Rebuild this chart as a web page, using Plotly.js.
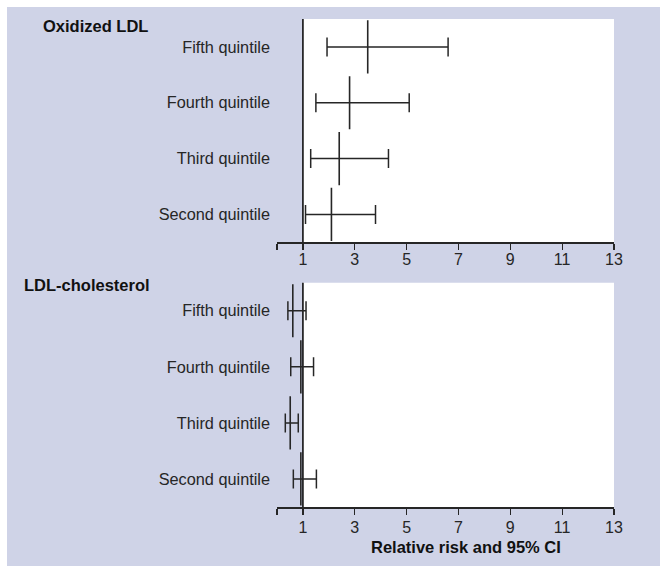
<!DOCTYPE html>
<html>
<head>
<meta charset="utf-8">
<script src="https://cdn.plot.ly/plotly-3.0.1.min.js"></script>
<style>html,body{margin:0;padding:0;background:#fff;}#chart{width:671px;height:571px;}</style>
</head>
<body>
<div id="chart"></div>
<script>
// Categories (bottom to top)
const categories = ['Second quintile', 'Third quintile', 'Fourth quintile', 'Fifth quintile'];

// Oxidized LDL: relative risk and 95% CI
const oxRR   = [2.1, 2.4, 2.8, 3.5];
const oxLow  = [1.1, 1.3, 1.5, 1.93];
const oxHigh = [3.8, 4.3, 5.1, 6.6];

// LDL-cholesterol: relative risk and 95% CI
const ldlRR   = [0.92, 0.51, 0.92, 0.61];
const ldlLow  = [0.63, 0.32, 0.53, 0.42];
const ldlHigh = [1.52, 0.82, 1.41, 1.12];

const tickVals = [0, 1, 3, 5, 7, 9, 11, 13];
const tickText = ['', '1', '3', '5', '7', '9', '11', '13'];

const panelTitles = ['Oxidized LDL', 'LDL-cholesterol'];
const xTitle = 'Relative risk and 95% CI';

const FONT = 'Liberation Sans, Arial, Helvetica, sans-serif';
const INK = '#262626';
const LAV = '#cfd3e7';

function trace(rr, lo, hi, xa, ya) {
  return {
    type: 'scatter', mode: 'markers',
    x: rr, y: categories, xaxis: xa, yaxis: ya,
    marker: {symbol: 'line-ns', size: 38, color: INK, line: {color: INK, width: 1.6}},
    error_x: {
      type: 'data', symmetric: false,
      array: hi.map((h, i) => h - rr[i]),
      arrayminus: lo.map((l, i) => rr[i] - l),
      color: INK, thickness: 1.5, width: 9.5
    },
    hoverinfo: 'skip', showlegend: false
  };
}

const data = [
  trace(oxRR, oxLow, oxHigh, 'x', 'y'),
  trace(ldlRR, ldlLow, ldlHigh, 'x2', 'y2')
];

function xaxisDef(anchor, standoff) {
  return {
    anchor: anchor, range: [0, 13], tickmode: 'array', tickvals: tickVals, ticktext: tickText,
    showgrid: false, zeroline: false, showline: true, linecolor: INK, linewidth: 1.5,
    ticks: 'outside', ticklen: 6, tickwidth: 1.3, tickcolor: INK, ticklabelstandoff: standoff,
    tickfont: {family: FONT, size: 16, color: INK}, fixedrange: true
  };
}
function yaxisDef(anchor, domain) {
  return {
    anchor: anchor, domain: domain, type: 'category',
    categoryorder: 'array', categoryarray: categories, range: [-0.5, 3.5],
    showgrid: false, zeroline: false, showline: false, ticks: '', ticklabelstandoff: 6,
    tickfont: {family: FONT, size: 16.3, color: INK}, fixedrange: true
  };
}

const shapes = [
  {type: 'rect', xref: 'paper', yref: 'paper', x0: -0.8012, x1: 1.1365, y0: -0.1209, y1: 1.0246,
   fillcolor: LAV, line: {width: 0}, layer: 'below'}
];
[['x', 'y'], ['x2', 'y2']].forEach(([xa, ya]) => {
  shapes.push({type: 'rect', xref: xa, yref: ya + ' domain', x0: 1, x1: 13, y0: 0, y1: 1,
    fillcolor: '#ffffff', line: {width: 0}, layer: 'below'});
  shapes.push({type: 'line', xref: xa, yref: ya + ' domain', x0: 1, x1: 1, y0: 0, y1: 1,
    line: {color: '#111', width: 1.6}, layer: 'below'});
});

const layout = {
  width: 671, height: 571,
  margin: {l: 277, r: 57, t: 19, b: 64},
  paper_bgcolor: '#ffffff', plot_bgcolor: 'rgba(0,0,0,0)',
  font: {family: FONT, color: INK},
  xaxis: xaxisDef('y', -4),
  yaxis: yaxisDef('x', [0.5424, 1]),
  xaxis2: Object.assign(xaxisDef('y2', -1), {matches: 'x'}),
  yaxis2: yaxisDef('x2', [0, 0.4596]),
  shapes: shapes,
  annotations: [
    {text: '<b>' + panelTitles[0] + '</b>', xref: 'paper', yref: 'paper', x: -0.7, y: 0.9857,
     xanchor: 'left', yanchor: 'middle', showarrow: false, font: {family: FONT, size: 16.5, color: '#111'}},
    {text: '<b>' + panelTitles[1] + '</b>', xref: 'paper', yref: 'paper', x: -0.7576, y: 0.4549,
     xanchor: 'left', yanchor: 'middle', showarrow: false, font: {family: FONT, size: 16.5, color: '#111'}},
    {text: '<b>' + xTitle + '</b>', xref: 'paper', yref: 'paper', x: 0.5617, y: -0.081,
     xanchor: 'center', yanchor: 'middle', showarrow: false, font: {family: FONT, size: 16.5, color: '#111'}}
  ]
};

Plotly.newPlot('chart', data, layout, {displayModeBar: false, staticPlot: true});
</script>
</body>
</html>
